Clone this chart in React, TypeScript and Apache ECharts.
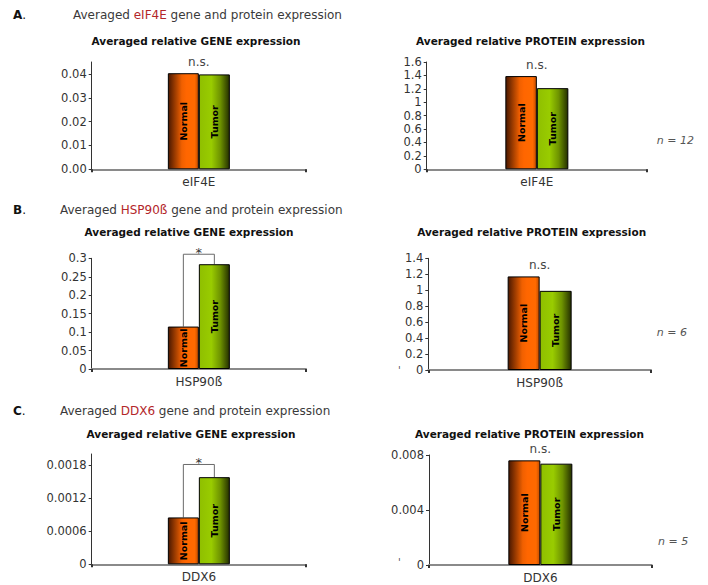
import React, { useEffect, useRef } from 'react';
import * as echarts from 'echarts';

const panelLetters = ['A', 'B', 'C'];
const categories = ['eIF4E', 'HSP90ß', 'DDX6'];
const sampleSizes = [12, 6, 5];

const geneNormal = [0.0403, 0.115, 0.00085];
const geneTumor = [0.0398, 0.284, 0.00158];
const geneMax = [0.045, 0.3, 0.002];
const geneTicks = [
  [0, 0.01, 0.02, 0.03, 0.04],
  [0, 0.05, 0.1, 0.15, 0.2, 0.25, 0.3],
  [0, 0.0006, 0.0012, 0.0018],
];
const geneTickLabels = [
  ['0.00', '0.01', '0.02', '0.03', '0.04'],
  ['0', '0.05', '0.1', '0.15', '0.2', '0.25', '0.3'],
  ['0', '0.0006', '0.0012', '0.0018'],
];
const geneSignif = ['n.s.', '*', '*'];
const geneBracketTop = [null, 0.311, 0.00181];

const proteinNormal = [1.39, 1.173, 0.00761];
const proteinTumor = [1.21, 0.992, 0.00737];
const proteinMax = [1.6, 1.4, 0.008];
const proteinTicks = [
  [0, 0.2, 0.4, 0.6, 0.8, 1, 1.2, 1.4, 1.6],
  [0, 0.2, 0.4, 0.6, 0.8, 1, 1.2, 1.4],
  [0, 0.004, 0.008],
];
const proteinTickLabels = [
  ['0', '0.2', '0.4', '0.6', '0.8', '1', '1.2', '1.4', '1.6'],
  ['0', '0.2', '0.4', '0.6', '0.8', '1', '1.2', '1.4'],
  ['0', '0.004', '0.008'],
];
const proteinSignif = ['n.s.', 'n.s.', 'n.s.'];

const seriesNames = ['Normal', 'Tumor'];

const FONT = '"DejaVu Sans", Verdana, sans-serif';

const normalFill = {
  type: 'linear', x: 0, y: 0, x2: 1, y2: 0,
  colorStops: [
    { offset: 0, color: '#4a1800' },
    { offset: 0.45, color: '#f06000' },
    { offset: 0.6, color: '#ff6600' },
    { offset: 0.88, color: '#ff6a00' },
    { offset: 1, color: '#c04c00' },
  ],
};
const tumorFill = {
  type: 'linear', x: 0, y: 0, x2: 1, y2: 0,
  colorStops: [
    { offset: 0, color: '#8fbf00' },
    { offset: 0.4, color: '#99cc00' },
    { offset: 0.7, color: '#6e9300' },
    { offset: 1, color: '#253000' },
  ],
};

// layout (pixels)
const geneGrid = [
  { left: 91.7, width: 214.3, top: 62, bottom: 169.3, barW: 31 },
  { left: 91.7, width: 214.3, top: 258.3, bottom: 369, barW: 31 },
  { left: 91.7, width: 214.3, top: 454, bottom: 564.3, barW: 31 },
];
const proteinGrid = [
  { left: 426.7, width: 220.3, top: 62, bottom: 169.3, barW: 31.5 },
  { left: 428.3, width: 222.7, top: 258.3, bottom: 370, barW: 32 },
  { left: 429, width: 222.7, top: 455, bottom: 565, barW: 32 },
];

function buildOption() {
  const grid: any[] = [];
  const xAxis: any[] = [];
  const yAxis: any[] = [];
  const series: any[] = [];
  const graphic: any[] = [];

  const addPanel = (
    g: any, cat: string, normal: number, tumor: number, max: number,
    ticks: number[], labels: string[], signif: string, bracket: number | null,
  ) => {
    const idx = grid.length;
    grid.push({ left: g.left, top: g.top, width: g.width, height: g.bottom - g.top });
    xAxis.push({
      type: 'category', gridIndex: idx, data: [cat],
      axisLine: { lineStyle: { color: '#8a8a8a', width: 2 } },
      axisTick: { show: true, length: 3, lineStyle: { color: '#333', width: 2 } },
      axisLabel: { fontFamily: FONT, fontSize: 12, color: '#333', margin: 7 },
    });
    yAxis.push({
      type: 'value', gridIndex: idx, min: 0, max,
      splitLine: { show: false },
      axisLine: { show: true, lineStyle: { color: '#333', width: 1 } },
      axisTick: { show: true, length: 3, customValues: ticks, lineStyle: { color: '#333' } },
      axisLabel: {
        customValues: ticks,
        fontFamily: FONT, fontSize: 11.5, color: '#333', margin: 5,
        padding: [4, 0, 0, 0],
        formatter: (v: number) => {
          const k = ticks.findIndex((t) => Math.abs(t - v) < max * 1e-6);
          return k >= 0 ? labels[k] : '';
        },
      },
    });
    const vals = [normal, tumor];
    const fills = [normalFill, tumorFill];
    seriesNames.forEach((nm, k) => {
      series.push({
        type: 'bar', name: nm, xAxisIndex: idx, yAxisIndex: idx,
        data: [vals[k]], barWidth: g.barW, barGap: '0%',
        itemStyle: { color: fills[k], borderColor: '#000', borderWidth: 1 },
        label: {
          show: true, position: 'inside', rotate: 90, formatter: nm,
          fontFamily: FONT, fontSize: 9.5, fontWeight: 'bold', color: '#000',
        },
      });
    });
    const barW = g.barW;
    series.push({
      type: 'custom', xAxisIndex: idx, yAxisIndex: idx, clip: false, silent: true,
      data: [[0, normal, tumor]],
      renderItem: (params: any, api: any) => {
        const cx = api.coord([0, 0])[0];
        const yn = api.coord([0, api.value(1)])[1];
        const yt = api.coord([0, api.value(2)])[1];
        const xn = cx - barW / 2;
        const xt = cx + barW / 2;
        if (bracket != null) {
          const yb = api.coord([0, bracket])[1];
          return {
            type: 'group',
            children: [
              {
                type: 'polyline',
                shape: { points: [[xn, yn], [xn, yb], [xt, yb], [xt, yt]] },
                style: { stroke: '#6a6a6a', lineWidth: 1, fill: null },
              },
              {
                type: 'text',
                style: {
                  text: signif, x: cx, y: yb - 2, align: 'center', verticalAlign: 'middle',
                  fontFamily: FONT, fontSize: 13, fill: '#333',
                },
              },
            ],
          };
        }
        return {
          type: 'text',
          style: {
            text: signif, x: cx, y: Math.min(yn, yt) - 11, align: 'center', verticalAlign: 'middle',
            fontFamily: FONT, fontSize: 12, fill: '#444',
          },
        };
      },
    });
  };

  for (let i = 0; i < 3; i++) {
    addPanel(geneGrid[i], categories[i], geneNormal[i], geneTumor[i], geneMax[i],
      geneTicks[i], geneTickLabels[i], geneSignif[i], geneBracketTop[i]);
    addPanel(proteinGrid[i], categories[i], proteinNormal[i], proteinTumor[i], proteinMax[i],
      proteinTicks[i], proteinTickLabels[i], proteinSignif[i], null);
  }

  // headers
  const headerY = [15, 210, 411];
  const headerX = [73, 60, 60];
  const subY = [[40.7, 40.7], [232.3, 231.7], [434.3, 434.3]];
  const subX = [[196, 530.5], [189, 531.7], [191, 529.5]];
  const nPos = [[656.7, 140], [656.7, 332.3], [658, 541.7]];
  for (let i = 0; i < 3; i++) {
    graphic.push({
      type: 'text', x: 13, y: headerY[i],
      style: {
        text: '{b|' + panelLetters[i] + '}{n|.}',
        verticalAlign: 'middle',
        rich: {
          b: { fontFamily: FONT, fontSize: 12, fontWeight: 'bold', fill: '#111' },
          n: { fontFamily: FONT, fontSize: 12, fill: '#111' },
        },
      },
    });
    graphic.push({
      type: 'text', x: headerX[i], y: headerY[i],
      style: {
        text: '{a|Averaged }{r|' + categories[i] + '}{a| gene and protein expression}',
        verticalAlign: 'middle',
        rich: {
          a: { fontFamily: FONT, fontSize: 12, fill: '#3a3a3a' },
          r: { fontFamily: FONT, fontSize: 12, fill: '#b3262a' },
        },
      },
    });
    graphic.push({
      type: 'text', x: subX[i][0], y: subY[i][0],
      style: {
        text: 'Averaged relative GENE expression', align: 'center', verticalAlign: 'middle',
        fontFamily: FONT, fontSize: 10.5, fontWeight: 'bold', fill: '#111',
      },
    });
    graphic.push({
      type: 'text', x: subX[i][1], y: subY[i][1],
      style: {
        text: 'Averaged relative PROTEIN expression', align: 'center', verticalAlign: 'middle',
        fontFamily: FONT, fontSize: 10.5, fontWeight: 'bold', fill: '#111',
      },
    });
    graphic.push({
      type: 'text', x: nPos[i][0], y: nPos[i][1],
      style: {
        text: 'n = ' + sampleSizes[i], verticalAlign: 'middle',
        fontFamily: FONT, fontSize: 11, fontStyle: 'italic', fill: '#555',
      },
    });
  }
  graphic.push({
    type: 'text', x: 398, y: 370,
    style: { text: "'", verticalAlign: 'middle', fontFamily: FONT, fontSize: 10, fill: '#555' },
  });
  graphic.push({
    type: 'text', x: 398, y: 562,
    style: { text: "'", verticalAlign: 'middle', fontFamily: FONT, fontSize: 10, fill: '#555' },
  });

  return {
    animation: false,
    backgroundColor: '#fff',
    textStyle: { fontFamily: FONT },
    grid, xAxis, yAxis, series, graphic,
  };
}

export default function App() {
  const ref = useRef<HTMLDivElement>(null);
  useEffect(() => {
    if (!ref.current) return;
    const chart = echarts.init(ref.current, undefined, { renderer: 'svg' });
    chart.setOption(buildOption() as any);
    return () => chart.dispose();
  }, []);
  return (
    <div
      ref={ref}
      style={{ position: 'fixed', left: 0, top: 0, width: 708, height: 585, background: '#fff' }}
    />
  );
}
